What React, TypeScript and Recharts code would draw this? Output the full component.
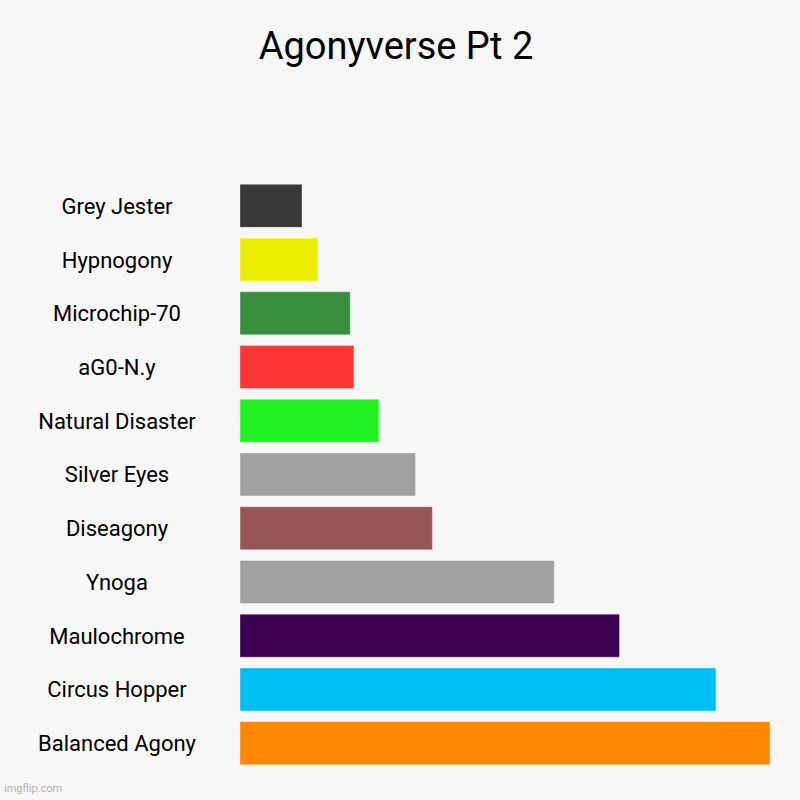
import { Bar, BarChart, Cell, XAxis, YAxis } from "recharts";

const categories = [
  "Grey Jester",
  "Hypnogony",
  "Microchip-70",
  "aG0-N.y",
  "Natural Disaster",
  "Silver Eyes",
  "Diseagony",
  "Ynoga",
  "Maulochrome",
  "Circus Hopper",
  "Balanced Agony"
];

const values = [11.7, 14.7, 20.8, 21.5, 26.2, 33.1, 36.3, 59.3, 71.6, 89.8, 100];

const barColors = [
  "#383838",
  "#eeee00",
  "#388e3c",
  "#ff3535",
  "#22f022",
  "#a1a1a1",
  "#985555",
  "#a1a1a1",
  "#3c0050",
  "#00bff3",
  "#ff8800"
];

const data = categories.map((name, i) => ({ name, value: values[i] }));

const fontFamily = "Roboto, 'Noto Sans', sans-serif";

function CategoryTick(props: any) {
  const { y, payload } = props;
  return (
    <text x={117} y={y} dy="0.36em" textAnchor="middle" fill="#000" fontSize={22} fontFamily={fontFamily}>
      {payload.value}
    </text>
  );
}

export default function App() {
  return (
    <div
      style={{
        position: "absolute",
        left: 0,
        top: 0,
        width: 800,
        height: 800,
        background: "#f7f7f7",
        fontFamily
      }}
    >
      <div
        style={{
          position: "absolute",
          top: 27,
          left: 0,
          width: 792,
          textAlign: "center",
          fontSize: 38,
          lineHeight: 1,
          color: "#000"
        }}
      >
        Agonyverse Pt 2
      </div>
      <BarChart
        width={800}
        height={800}
        data={data}
        layout="vertical"
        margin={{ top: 179, right: 30, bottom: 30, left: 0 }}
        barCategoryGap="10%"
      >
        <XAxis type="number" domain={[0, 100]} hide />
        <YAxis
          type="category"
          dataKey="name"
          width={240}
          axisLine={false}
          tickLine={false}
          tick={<CategoryTick />}
          interval={0}
        />
        <Bar dataKey="value" isAnimationActive={false} stroke="rgba(255,255,255,0.35)" strokeWidth={1}>
          {data.map((_, i) => (
            <Cell key={i} fill={barColors[i]} />
          ))}
        </Bar>
      </BarChart>
      <div
        style={{
          position: "absolute",
          left: 4,
          top: 783,
          fontSize: 11,
          color: "#b0b0b0",
          lineHeight: 1
        }}
      >
        imgflip.com
      </div>
    </div>
  );
}
